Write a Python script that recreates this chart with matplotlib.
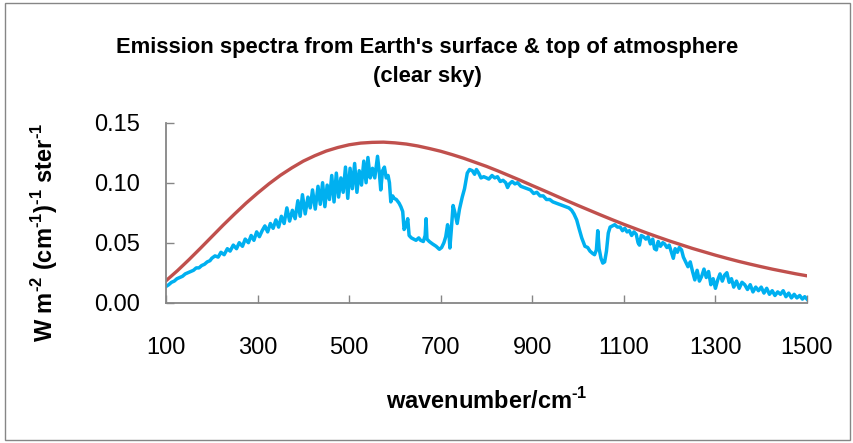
import matplotlib
matplotlib.use("Agg")
import matplotlib.pyplot as plt
from matplotlib.patches import Rectangle

# surface emission (smooth curve)
surf_wn = [100, 125, 150, 175, 200, 225, 250, 275, 300, 325, 350, 375, 400,
           425, 450, 475, 500, 525, 550, 575, 600, 625, 650, 675, 700, 725,
           750, 775, 800, 825, 850, 875, 900, 925, 950, 975, 1000, 1025, 1050,
           1075, 1100, 1125, 1150, 1175, 1200, 1225, 1250, 1275, 1300, 1325,
           1350, 1375, 1400, 1425, 1450, 1475, 1500]
surf_val = [0.0183, 0.0267, 0.0358, 0.0453, 0.0550, 0.0647, 0.0740, 0.0830,
            0.0913, 0.0991, 0.1062, 0.1124, 0.1180, 0.1225, 0.1264, 0.1293,
            0.1316, 0.1330, 0.1336, 0.1338, 0.1332, 0.1322, 0.1306, 0.1285,
            0.1262, 0.1234, 0.1204, 0.1170, 0.1136, 0.1098, 0.1058, 0.1018,
            0.0976, 0.0935, 0.0893, 0.0851, 0.0810, 0.0770, 0.0730, 0.0691,
            0.0653, 0.0617, 0.0581, 0.0547, 0.0514, 0.0483, 0.0452, 0.0424,
            0.0396, 0.0370, 0.0345, 0.0322, 0.0300, 0.0279, 0.0260, 0.0241,
            0.0224]

# top of atmosphere spectrum
toa_wn = [100, 106, 112, 118, 124, 130, 136, 142, 148, 154, 160, 166, 172, 178,
          184, 190, 196, 200, 207, 214, 220, 227, 234, 240, 247, 254, 260, 267,
          273, 280, 286, 292, 298, 304, 310, 316, 322, 328, 334, 340, 346, 352,
          358, 364, 370, 376, 382, 388, 393, 398, 404, 410, 415, 420, 426, 432,
          437, 442, 447, 452, 457, 462, 467, 472, 477, 482, 487, 492, 497, 502,
          507, 512, 517, 522, 527, 532, 537, 541, 546, 551, 556, 562, 566, 569,
          573, 577, 581, 585, 588, 591, 595, 598, 603, 609, 613, 617, 620, 624,
          628, 631, 636, 641, 646, 652, 656, 662, 666, 668, 670, 675, 682, 690,
          697, 702, 707, 711, 715, 718, 720, 723, 727, 731, 736, 741, 747, 752,
          758, 763, 769, 774, 778, 783, 788, 794, 800, 805, 812, 818, 824, 830,
          836, 842, 846, 850, 856, 862, 868, 875, 882, 889, 896, 903, 910, 917,
          924, 931, 938, 945, 952, 959, 966, 973, 980, 986, 991, 997, 1002, 1008,
          1015, 1021, 1026, 1032, 1036, 1040, 1043, 1046, 1050, 1054, 1058, 1062,
          1066, 1070, 1075, 1080, 1086, 1092, 1097, 1102, 1107, 1112, 1117, 1122,
          1127, 1131, 1134, 1138, 1143, 1148, 1153, 1158, 1163, 1167, 1171, 1175,
          1180, 1185, 1189, 1194, 1199, 1204, 1208, 1212, 1217, 1221, 1226, 1230,
          1235, 1240, 1245, 1250, 1255, 1260, 1265, 1270, 1275, 1280, 1285, 1290,
          1295, 1300, 1305, 1310, 1315, 1320, 1325, 1330, 1335, 1340, 1346, 1352,
          1358, 1364, 1370, 1376, 1382, 1388, 1394, 1400, 1406, 1412, 1418, 1424,
          1430, 1436, 1442, 1448, 1454, 1460, 1466, 1472, 1478, 1484, 1490, 1495,
          1500]
toa_val = [0.0135, 0.015, 0.017, 0.018, 0.020, 0.021, 0.022, 0.024, 0.025, 0.026,
           0.027, 0.029, 0.029, 0.031, 0.032, 0.034, 0.035, 0.037, 0.039, 0.038,
           0.042, 0.040, 0.045, 0.043, 0.048, 0.045, 0.050, 0.047, 0.053, 0.050,
           0.056, 0.052, 0.059, 0.055, 0.060, 0.064, 0.059, 0.066, 0.062, 0.069,
           0.063, 0.072, 0.066, 0.079, 0.068, 0.077, 0.070, 0.085, 0.072, 0.090,
           0.074, 0.088, 0.079, 0.094, 0.078, 0.097, 0.082, 0.100, 0.080, 0.098,
           0.086, 0.106, 0.084, 0.108, 0.088, 0.104, 0.092, 0.113, 0.087, 0.112,
           0.095, 0.116, 0.092, 0.110, 0.098, 0.118, 0.100, 0.121, 0.104, 0.112,
           0.104, 0.122, 0.108, 0.094, 0.110, 0.113, 0.104, 0.106, 0.100, 0.084,
           0.089, 0.087, 0.086, 0.083, 0.080, 0.076, 0.061, 0.064, 0.070, 0.056,
           0.054, 0.053, 0.052, 0.054, 0.052, 0.051, 0.056, 0.070, 0.053, 0.051,
           0.049, 0.047, 0.0445, 0.046, 0.050, 0.055, 0.065, 0.058, 0.0456, 0.060,
           0.081, 0.075, 0.066, 0.078, 0.088, 0.095, 0.108, 0.111, 0.110, 0.107,
           0.111, 0.108, 0.104, 0.105, 0.104, 0.103, 0.106, 0.104, 0.105, 0.101,
           0.102, 0.100, 0.096, 0.099, 0.101, 0.099, 0.100, 0.097, 0.096, 0.095,
           0.094, 0.091, 0.092, 0.089, 0.089, 0.086, 0.086, 0.084, 0.083, 0.082,
           0.081, 0.080, 0.079, 0.077, 0.074, 0.069, 0.062, 0.054, 0.047, 0.046,
           0.043, 0.041, 0.040, 0.044, 0.060, 0.045, 0.037, 0.033, 0.034, 0.043,
           0.058, 0.063, 0.064, 0.065, 0.063, 0.063, 0.060, 0.062, 0.059, 0.060,
           0.056, 0.059, 0.057, 0.050, 0.048, 0.056, 0.055, 0.053, 0.055, 0.049,
           0.053, 0.045, 0.044, 0.051, 0.047, 0.050, 0.049, 0.046, 0.048, 0.042,
           0.037, 0.045, 0.042, 0.046, 0.044, 0.038, 0.034, 0.030, 0.034, 0.026,
           0.019, 0.027, 0.018, 0.022, 0.028, 0.021, 0.026, 0.015, 0.020, 0.012,
           0.019, 0.024, 0.018, 0.023, 0.025, 0.017, 0.020, 0.013, 0.018, 0.012,
           0.017, 0.015, 0.011, 0.015, 0.009, 0.013, 0.010, 0.013, 0.008, 0.012,
           0.007, 0.010, 0.006, 0.009, 0.007, 0.010, 0.005, 0.008, 0.004, 0.007,
           0.004, 0.006, 0.003, 0.005, 0.003]

x_ticks = [100, 300, 500, 700, 900, 1100, 1300, 1500]
y_ticks = [0.00, 0.05, 0.10, 0.15]

plt.rcParams['font.family'] = ['Liberation Sans', 'DejaVu Sans']
plt.rcParams['mathtext.fontset'] = 'custom'
plt.rcParams['mathtext.rm'] = 'Liberation Sans:bold'
plt.rcParams['mathtext.bf'] = 'Liberation Sans:bold'

grey = '#868686'

def sup(s):
    return '$^{\\text{' + s + '}}$'

fig = plt.figure(figsize=(8.54, 4.43), dpi=100)
fig.patches.append(Rectangle((5 / 854, 3 / 443), 845 / 854, 437 / 443,
                             transform=fig.transFigure, fill=False,
                             edgecolor=grey, linewidth=1))
ax = fig.add_axes([166 / 854, 1 - 302.7 / 443, 641 / 854, 180 / 443])

ax.plot(toa_wn, toa_val, color='#00B0F0', linewidth=2.5)
ax.plot(surf_wn, surf_val, color='#C0504D', linewidth=2.4)

ax.set_xlim(100, 1500)
ax.set_ylim(0, 0.15)
ax.set_xticks(x_ticks)
ax.set_yticks(y_ticks)
ax.set_yticklabels([f'{v:.2f}' for v in y_ticks])

for s in ['top', 'right']:
    ax.spines[s].set_visible(False)
for s in ['left', 'bottom']:
    ax.spines[s].set_color(grey)
    ax.spines[s].set_linewidth(1.3)
ax.tick_params(axis='both', direction='in', length=6, width=1, color=grey,
               labelsize=17)
ax.tick_params(axis='x', pad=25)
ax.tick_params(axis='y', pad=19)

ax.set_xlabel('wavenumber/cm' + sup('-1'), fontsize=17, fontweight='bold')
ax.xaxis.set_label_coords(0.5, -0.545)
ax.xaxis.label.set_va('center')
ax.set_ylabel('W m' + sup('-2') + ' (cm' + sup('-1') + ')' + sup('-1')
              + ' ster' + sup('-1'), fontsize=17, fontweight='bold')
ax.yaxis.set_label_coords(-0.19, 0.39)
ax.yaxis.label.set_va('center')

fig.text(0.5, 1 - 62 / 443,
         "Emission spectra from Earth's surface & top of atmosphere\n(clear sky)",
         ha='center', va='center', fontsize=15.8, fontweight='bold',
         linespacing=1.5)

fig.savefig('out.png', dpi=100)
